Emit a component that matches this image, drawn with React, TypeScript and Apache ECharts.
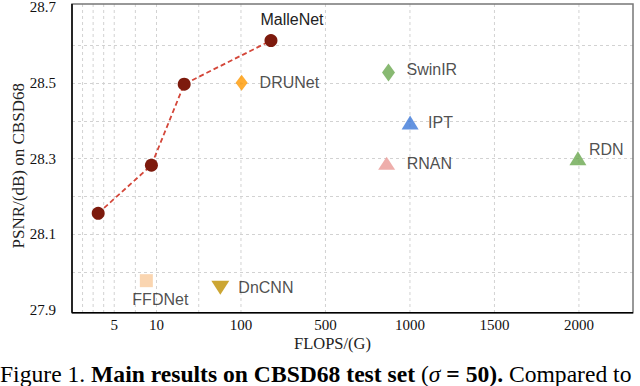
import React, { useEffect, useRef } from "react";
import * as echarts from "echarts";

// ---- data ----
const malleNetFlops = [3.1, 9.4, 39.5, 242];
const malleNetPsnr = [28.156, 28.283, 28.497, 28.612];

const models = ["DRUNet", "SwinIR", "IPT", "RNAN", "RDN", "FFDNet", "DnCNN"];
const modelFlops = [103, 873, 1001, 862, 1994, 8.8, 78];
const modelPsnr = [28.501, 28.528, 28.396, 28.288, 28.301, 27.978, 27.959];

const xTickLabels = [5, 10, 100, 500, 1000, 1500, 2000];
const xGridFlops = [1.25, 2.5, 3.75, 5, 7.5, 10, 55, 100, 500, 1000, 1500, 2000];
const yTickLabels = [27.9, 28.1, 28.3, 28.5, 28.7];

// piecewise FLOPs scale breakpoints (each segment has equal width)
const scaleBreaks = [0, 10, 100, 500, 1000, 1500, 2000, 2500, 3000];

function toAxis(f: number): number {
  for (let i = 0; i < scaleBreaks.length - 1; i++) {
    if (f <= scaleBreaks[i + 1]) {
      return i + (f - scaleBreaks[i]) / (scaleBreaks[i + 1] - scaleBreaks[i]);
    }
  }
  return scaleBreaks.length - 1;
}

// ---- styles ----
const SANS = "Liberation Sans, Arial, sans-serif";
const SERIF = "Liberation Serif, Times New Roman, serif";

const modelStyle: Record<string, any> = {
  DRUNet: { symbol: "diamond", size: [12, 16], rotate: 0, color: "#FF9900", align: "left", offset: [18, 0] },
  SwinIR: { symbol: "diamond", size: [13, 18], rotate: 0, color: "#6AA84F", align: "left", offset: [18, -3] },
  IPT: { symbol: "triangle", size: [17, 14], rotate: 0, color: "#3C78D8", align: "left", offset: [18, 0] },
  RNAN: { symbol: "triangle", size: [17, 13], rotate: 0, color: "#EA9A96", align: "left", offset: [20, 0] },
  RDN: { symbol: "triangle", size: [17, 14], rotate: 0, color: "#6AA84F", align: "left", offset: [11, -9] },
  FFDNet: { symbol: "rect", size: [13, 13], rotate: 0, color: "#F9CB9C", align: "center", offset: [14, 19] },
  DnCNN: { symbol: "triangle", size: [18, 14], rotate: 180, color: "#BF9000", align: "left", offset: [18, 0] },
};

const labelText = { color: "#222", fontFamily: SANS, fontSize: 16 };
const gridLineStyle = { color: "#d2d2d2", type: [3, 3], width: 1 };

export default function App() {
  const ref = useRef<HTMLDivElement>(null);

  useEffect(() => {
    if (!ref.current) return;
    const chart = echarts.init(ref.current, undefined, { renderer: "svg" });

    const modelSeries = models.map((name, i) => {
      const st = modelStyle[name];
      return {
        name,
        type: "scatter",
        symbol: st.symbol,
        symbolSize: st.size,
        symbolRotate: st.rotate,
        itemStyle: { color: st.color },
        z: 5,
        label: {
          show: true,
          position: "inside",
          formatter: name,
          align: st.align,
          verticalAlign: "middle",
          offset: st.offset,
          ...labelText,
          textBorderWidth: 0,
        },
        data: [[toAxis(modelFlops[i]), modelPsnr[i]]],
      };
    });

    const option: any = {
      animation: false,
      backgroundColor: "#fff",
      grid: { left: 72, right: 7, top: 7.3, bottom: 75.8, containLabel: false, outerBoundsMode: "none" },
      xAxis: {
        type: "value",
        min: 0,
        max: 6.64,
        interval: 0.125,
        axisLine: { show: false },
        axisTick: { show: false },
        splitLine: { show: false },
        axisLabel: {
          showMaxLabel: false,
          margin: 7.5,
          lineHeight: 15,
          color: "#111",
          fontFamily: SERIF,
          fontSize: 15,
          formatter: (v: number) => {
            const t = xTickLabels.find((f) => Math.abs(toAxis(f) - v) < 1e-6);
            return t === undefined ? "" : String(t);
          },
        },
        name: "FLOPS/(G)",
        nameLocation: "middle",
        nameGap: 26,
        nameMoveOverlap: false,
        nameTextStyle: { color: "#222", fontFamily: SERIF, fontSize: 16.5, lineHeight: 15, padding: [0, 40, 0, 0] },
      },
      yAxis: {
        type: "value",
        min: 27.9,
        max: 28.7,
        interval: 0.1,
        axisLine: { show: false },
        axisTick: { show: false },
        splitLine: {
          show: true,
          showMinLine: false,
          showMaxLine: false,
          lineStyle: gridLineStyle,
        },
        axisLabel: {
          margin: 16,
          color: "#111",
          fontFamily: SERIF,
          fontSize: 15,
          formatter: (v: number) => {
            const t = yTickLabels.find((f) => Math.abs(f - v) < 1e-6);
            return t === undefined ? "" : t.toFixed(1);
          },
        },
        name: "PSNR/(dB) on CBSD68",
        nameLocation: "middle",
        nameGap: 45,
        nameMoveOverlap: false,
        nameTextStyle: { color: "#222", fontFamily: SERIF, fontSize: 17, padding: [0, 14, 0, 0] },
      },
      graphic: [
        {
          type: "rect",
          shape: { x: 72, y: 4, width: 561, height: 308.7 },
          style: { fill: "none", stroke: "#777", lineWidth: 1.5 },
          z: 10,
          silent: true,
        },
        {
          type: "line",
          shape: { x1: 72, y1: 4, x2: 72, y2: 312.7 },
          style: { stroke: "#000", lineWidth: 1.5 },
          z: 11,
          silent: true,
        },
        {
          type: "line",
          shape: { x1: 72, y1: 312.7, x2: 633, y2: 312.7 },
          style: { stroke: "#000", lineWidth: 1.5 },
          z: 11,
          silent: true,
        },
        {
          type: "text",
          left: 0,
          top: 362,
          silent: true,
          style: {
            text: "{r|Figure 1. }{b|Main results on CBSD68 test set }{r|(}{i|σ}{b| = 50).}{r| Compared to}",
            rich: {
              r: { fontFamily: SERIF, fontSize: 23.6, lineHeight: 24, color: "#111" },
              b: { fontFamily: SERIF, fontSize: 23.6, lineHeight: 24, fontWeight: "bold", color: "#111" },
              i: { fontFamily: SERIF, fontSize: 23.6, lineHeight: 24, fontStyle: "italic", color: "#111" },
            },
          },
        },
      ],
      series: [
        {
          name: "vgrid",
          type: "custom",
          silent: true,
          z: 1,
          data: xGridFlops.map((f) => [toAxis(f), 27.9]),
          renderItem: (params: any, api: any) => {
            const pt = api.coord([api.value(0), api.value(1)]);
            const cs = params.coordSys;
            return {
              type: "line",
              shape: { x1: pt[0], y1: cs.y - 3.3, x2: pt[0], y2: cs.y + cs.height + 2.5 },
              style: { stroke: gridLineStyle.color, lineDash: [3, 3], lineWidth: 1 },
            };
          },
        },
        {
          name: "MalleNet",
          type: "line",
          z: 6,
          symbol: "circle",
          symbolSize: 13,
          itemStyle: { color: "#7D1A0D" },
          lineStyle: { color: "#D4473A", width: 1.8, type: [5, 3] },
          data: malleNetFlops.map((f, i) => {
            const d: any = { value: [toAxis(f), malleNetPsnr[i]] };
            if (i === malleNetFlops.length - 1) {
              d.label = {
                show: true,
                position: "inside",
                formatter: "MalleNet",
                align: "center",
                verticalAlign: "middle",
                offset: [21, -21],
                ...labelText,
                textBorderWidth: 0,
              };
            }
            return d;
          }),
        },
        ...modelSeries,
      ],
    };

    chart.setOption(option);
    return () => chart.dispose();
  }, []);

  return (
    <div
      ref={ref}
      style={{ position: "fixed", left: 0, top: 0, width: 640, height: 386, background: "#fff" }}
    />
  );
}
